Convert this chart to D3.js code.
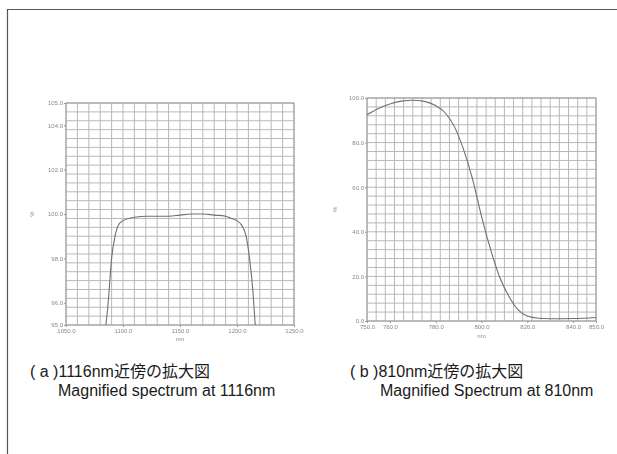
<!DOCTYPE html>
<html>
<head>
<meta charset="utf-8">
<script src="https://cdn.jsdelivr.net/npm/d3@7"></script>
<style>
  html, body { margin: 0; padding: 0; background: #fff; }
  svg { display: block; }
</style>
</head>
<body>
<svg id="fig" width="617" height="454"></svg>
<script>
// (a) transmittance around 1116 nm
const wavelengthsA = [1085, 1087, 1090, 1093, 1096, 1100, 1105, 1110, 1120, 1130, 1140, 1150, 1160, 1170, 1180, 1190, 1195, 1200, 1204, 1208, 1211, 1214, 1216];
const transmittanceA = [95.0, 96.0, 98.0, 99.0, 99.5, 99.7, 99.8, 99.85, 99.9, 99.9, 99.9, 99.95, 100.0, 100.0, 99.95, 99.9, 99.8, 99.7, 99.5, 99.0, 98.0, 96.5, 95.0];
const xTicksA = [1050, 1100, 1150, 1200, 1250];
const yTicksA = [95, 96, 98, 100, 102, 104, 105];

// (b) transmittance around 810 nm
const wavelengthsB = [750, 755, 760, 765, 770, 775, 780, 784, 788, 792, 796, 800, 804, 808, 812, 816, 820, 825, 830, 840, 850];
const transmittanceB = [92.5, 95.3, 97.3, 98.6, 99.0, 98.5, 96.6, 93.5, 87.5, 77.4, 64.0, 47.0, 32.0, 19.5, 11.0, 5.0, 2.2, 1.2, 1.0, 1.1, 1.6];
const xTicksB = [750, 760, 780, 800, 820, 840, 850];
const yTicksB = [0, 20, 40, 60, 80, 100];

const captionsA = ["( a )1116nm近傍の拡大図", "Magnified spectrum at 1116nm"];
const captionsB = ["( b )810nm近傍の拡大図", "Magnified Spectrum at 810nm"];

const svg = d3.select("#fig");

// soft print look for the plotted spectra
svg.append("defs").append("filter").attr("id", "soft")
  .attr("x", "-5%").attr("y", "-5%").attr("width", "110%").attr("height", "110%")
  .append("feGaussianBlur").attr("stdDeviation", 0.45);

// page frame
svg.append("path")
  .attr("d", "M7.5,454 L7.5,9.5 L617,9.5")
  .attr("fill", "none").attr("stroke", "#555").attr("stroke-width", 1.2);

function panel(cfg) {
  const x = d3.scaleLinear().domain(cfg.xDomain).range(cfg.xRange);
  const y = d3.scaleLinear().domain(cfg.yDomain).range(cfg.yRange);
  const g = svg.append("g").attr("filter", "url(#soft)");

  const [x0, x1] = cfg.xRange, [y1, y0] = cfg.yRange;

  // grid
  g.append("g").selectAll("line").data(cfg.xGrid).join("line")
    .attr("x1", d => x(d)).attr("x2", d => x(d))
    .attr("y1", y0).attr("y2", y1)
    .attr("stroke", "#b8b8b8").attr("stroke-width", 1);
  g.append("g").selectAll("line").data(cfg.yGrid).join("line")
    .attr("y1", d => y(d)).attr("y2", d => y(d))
    .attr("x1", x0).attr("x2", x1)
    .attr("stroke", "#b8b8b8").attr("stroke-width", 1);

  // frame
  g.append("rect").attr("x", x0).attr("y", y0)
    .attr("width", x1 - x0).attr("height", y1 - y0)
    .attr("fill", "none").attr("stroke", "#9a9a9a").attr("stroke-width", 1);

  // axes
  const fmt = d3.format(".1f");
  const xAxis = g.append("g").attr("transform", `translate(0,${y1})`)
    .call(d3.axisBottom(x).tickValues(cfg.xTicks).tickFormat(fmt).tickSize(2).tickPadding(2));
  const yAxis = g.append("g").attr("transform", `translate(${x0},0)`)
    .call(d3.axisLeft(y).tickValues(cfg.yTicks).tickFormat(fmt).tickSize(2).tickPadding(1));
  [xAxis, yAxis].forEach(a => {
    a.select(".domain").remove();
    a.selectAll("line").attr("stroke", "#999");
    a.selectAll("text").attr("fill", "#888")
      .style("font", "6px 'Liberation Sans', Arial, sans-serif");
  });

  // axis titles
  g.append("text").attr("x", (x0 + x1) / 2).attr("y", cfg.nmY)
    .attr("text-anchor", "middle").attr("fill", "#888")
    .style("font", "6px 'Liberation Sans', Arial, sans-serif").text("nm");
  g.append("text")
    .attr("transform", `translate(${cfg.pctX},${(y0 + y1) / 2}) rotate(-90)`)
    .attr("text-anchor", "middle").attr("fill", "#888")
    .style("font", "6px 'Liberation Sans', Arial, sans-serif").text("%");

  // spectrum curve
  const clipId = "clip" + cfg.id;
  svg.select("defs").append("clipPath").attr("id", clipId)
    .append("rect").attr("x", x0).attr("y", y0).attr("width", x1 - x0).attr("height", y1 - y0);
  const pts = cfg.xs.map((d, i) => [d, cfg.ys[i]]);
  g.append("path").datum(pts)
    .attr("clip-path", `url(#${clipId})`)
    .attr("d", d3.line().x(d => x(d[0])).y(d => y(d[1])).curve(d3.curveMonotoneX))
    .attr("fill", "none").attr("stroke", "#707070").attr("stroke-width", 1.1);

  // captions
  const cap = svg.append("g").style("font", "16px 'Liberation Sans', Arial, 'Noto Sans CJK JP', sans-serif")
    .attr("fill", "#1a1a1a");
  cap.append("text").attr("x", cfg.capX[0]).attr("y", 377).text(cfg.captions[0]);
  cap.append("text").attr("x", cfg.capX[1]).attr("y", 396).text(cfg.captions[1]);
}

panel({
  id: "A",
  xDomain: [1050, 1250], xRange: [66, 294],
  yDomain: [95, 105], yRange: [325, 103],
  xGrid: d3.range(0, 21).map(i => 1050 + i * 10),
  yGrid: d3.range(0, 26).map(i => 95 + i * 0.4),
  xTicks: xTicksA, yTicks: yTicksA,
  xs: wavelengthsA, ys: transmittanceA,
  nmY: 341, pctX: 34,
  captions: captionsA, capX: [30, 58]
});

panel({
  id: "B",
  xDomain: [750, 850], xRange: [367, 596],
  yDomain: [0, 100], yRange: [321, 98],
  xGrid: d3.range(0, 26).map(i => 750 + i * 4),
  yGrid: d3.range(0, 26).map(i => i * 4),
  xTicks: xTicksB, yTicks: yTicksB,
  xs: wavelengthsB, ys: transmittanceB,
  nmY: 338, pctX: 337,
  captions: captionsB, capX: [350, 380]
});
</script>
</body>
</html>
